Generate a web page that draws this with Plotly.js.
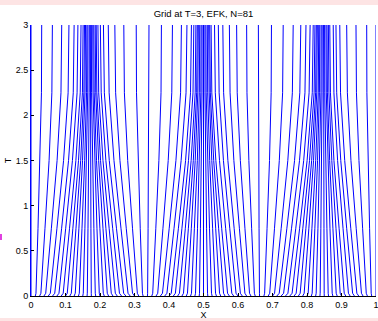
<!DOCTYPE html>
<html><head><meta charset="utf-8">
<script src="https://cdn.plot.ly/plotly-3.0.1.min.js"></script>
<style>
html,body{margin:0;padding:0;}
body{width:378px;height:321px;overflow:hidden;position:relative;
background:linear-gradient(to bottom,#fde4e4 0,#fde4e4 5px,#ffffff 5px,#ffffff 318px,#fde4e4 318px);}
#plot{position:absolute;left:0;top:0;width:378px;height:321px;}
#mark{position:absolute;left:0;top:234px;width:2px;height:6px;background:#e040e0;}
</style></head>
<body><div id="plot"></div><div id="mark"></div>
<script>
// time samples
const T = [0, 0.03, 0.75, 1.5, 2.25, 3];
// grid point positions at each time sample (81 points)
const X_T0 = [0,0.0125,0.025,0.0375,0.05,0.0625,0.075,0.0875,0.1,0.1125,0.125,0.1375,0.15,0.1625,0.175,0.1875,0.2,0.2125,0.225,0.2375,0.25,0.2625,0.275,0.2875,0.3,0.3125,0.325,0.3375,0.35,0.3625,0.375,0.3875,0.4,0.4125,0.425,0.4375,0.45,0.4625,0.475,0.4875,0.5,0.5125,0.525,0.5375,0.55,0.5625,0.575,0.5875,0.6,0.6125,0.625,0.6375,0.65,0.6625,0.675,0.6875,0.7,0.7125,0.725,0.7375,0.75,0.7625,0.775,0.7875,0.8,0.8125,0.825,0.8375,0.85,0.8625,0.875,0.8875,0.9,0.9125,0.925,0.9375,0.95,0.9625,0.975,0.9875,1];
const X_T003 = [0,0.0144,0.0287,0.0427,0.056,0.0688,0.0811,0.0933,0.1051,0.1168,0.1283,0.14,0.1515,0.1632,0.1747,0.1863,0.1979,0.2095,0.2211,0.2327,0.2444,0.2564,0.2685,0.2812,0.2943,0.3082,0.323,0.338,0.3528,0.3673,0.3811,0.394,0.4065,0.4185,0.4303,0.442,0.4535,0.4652,0.4768,0.4884,0.5,0.5117,0.5232,0.5349,0.5465,0.5581,0.5697,0.582,0.5943,0.6069,0.62,0.6334,0.6475,0.6622,0.6772,0.6919,0.706,0.7195,0.7322,0.7447,0.7568,0.7686,0.7802,0.7918,0.8034,0.815,0.8266,0.8382,0.8498,0.8614,0.873,0.8846,0.8962,0.9079,0.9201,0.9322,0.9445,0.9578,0.9717,0.9861,1];
const X_T075 = [0,0.0203,0.0405,0.0591,0.0752,0.0888,0.1006,0.1117,0.1214,0.1304,0.1389,0.1478,0.1563,0.1652,0.1737,0.1823,0.1912,0.1997,0.2086,0.2171,0.2265,0.2367,0.2477,0.2608,0.2761,0.2942,0.3166,0.3394,0.3618,0.3825,0.4006,0.4146,0.4273,0.4375,0.4473,0.4562,0.4647,0.4736,0.4826,0.4911,0.5,0.5089,0.5174,0.5264,0.5353,0.5438,0.5527,0.5642,0.5761,0.5888,0.604,0.6201,0.6395,0.661,0.6842,0.7058,0.7252,0.7417,0.7552,0.7675,0.7786,0.7879,0.7968,0.8054,0.8143,0.8228,0.8317,0.8402,0.8492,0.8577,0.8666,0.8751,0.884,0.893,0.9044,0.915,0.9269,0.9426,0.9612,0.9814,1];
const X_T15 = [0,0.0262,0.0524,0.0756,0.0944,0.1088,0.1201,0.1301,0.1377,0.144,0.1494,0.1556,0.1611,0.1673,0.1728,0.1783,0.1845,0.1899,0.1961,0.2016,0.2086,0.217,0.2269,0.2405,0.2578,0.2803,0.3102,0.3408,0.3707,0.3977,0.4201,0.4352,0.4481,0.4565,0.4642,0.4704,0.4759,0.4821,0.4883,0.4938,0.5,0.5062,0.5117,0.518,0.5241,0.5296,0.5358,0.5464,0.5578,0.5707,0.588,0.6068,0.6315,0.6599,0.6913,0.7197,0.7444,0.7639,0.7783,0.7904,0.8003,0.8073,0.8135,0.819,0.8252,0.8306,0.8368,0.8423,0.8485,0.854,0.8602,0.8657,0.8719,0.8781,0.8887,0.8979,0.9093,0.9274,0.9506,0.9768,1];
const X_T225 = [0,0.0303,0.0605,0.0869,0.1076,0.1225,0.1336,0.1427,0.149,0.1533,0.1567,0.161,0.1644,0.1687,0.1721,0.1755,0.1798,0.1832,0.1876,0.1909,0.1962,0.2035,0.2126,0.2265,0.2453,0.2707,0.3058,0.3418,0.3769,0.4081,0.4336,0.4494,0.4624,0.4696,0.4759,0.4802,0.4836,0.4879,0.4923,0.4957,0.5,0.5043,0.5077,0.5121,0.5164,0.5198,0.5241,0.5342,0.5453,0.5583,0.577,0.5977,0.626,0.6591,0.6961,0.7293,0.7576,0.7792,0.7941,0.8061,0.8153,0.8206,0.825,0.8283,0.8326,0.836,0.8404,0.8437,0.8481,0.8515,0.8558,0.8592,0.8635,0.8679,0.878,0.8861,0.8972,0.917,0.9433,0.9736,1];
const X_T3 = [0,0.031,0.062,0.089,0.110,0.125,0.136,0.145,0.151,0.155,0.158,0.162,0.165,0.169,0.172,0.175,0.179,0.182,0.186,0.189,0.194,0.201,0.210,0.224,0.243,0.269,0.305,0.342,0.378,0.410,0.436,0.452,0.465,0.472,0.478,0.482,0.485,0.489,0.493,0.496,0.500,0.504,0.507,0.511,0.515,0.518,0.522,0.532,0.543,0.556,0.575,0.596,0.625,0.659,0.697,0.731,0.760,0.782,0.797,0.809,0.818,0.823,0.827,0.830,0.834,0.837,0.841,0.844,0.848,0.851,0.855,0.858,0.862,0.866,0.876,0.884,0.895,0.915,0.942,0.973,1];
const X_TICKS = [0,0.1,0.2,0.3,0.4,0.5,0.6,0.7,0.8,0.9,1];
const X_LABELS = ['0','0.1','0.2','0.3','0.4','0.5','0.6','0.7','0.8','0.9','1'];
const Y_TICKS = [0,0.5,1,1.5,2,2.5,3];
const Y_LABELS = ['0','0.5','1','1.5','2','2.5','3'];

const XS = [X_T0, X_T003, X_T075, X_T15, X_T225, X_T3];
const traces = [];
for (let i = 0; i < X_T0.length; i++) {
  traces.push({
    type: 'scatter', mode: 'lines',
    x: XS.map(a => a[i]), y: T,
    line: {color: '#0000ff', width: 1},
    hoverinfo: 'skip', showlegend: false
  });
}
const font = {family: 'Liberation Sans, Arial, sans-serif', size: 9, color: '#000'};
const layout = {
  width: 378, height: 321,
  margin: {l: 31, r: 2, t: 25, b: 25},
  paper_bgcolor: 'rgba(0,0,0,0)', plot_bgcolor: '#ffffff',
  font: font,
  title: {text: 'Grid at T=3, EFK, N=81', font: {family: font.family, size: 9.5, color: '#000'},
          x: 0.5, xref: 'paper', y: 1 - 14/321, yref: 'container', yanchor: 'middle'},
  xaxis: {range: [0, 1], tickvals: X_TICKS, ticktext: X_LABELS, ticks: 'inside', ticklen: 3,
          tickcolor: '#000', showline: true, linecolor: '#000', linewidth: 1, zeroline: false,
          showgrid: false, tickfont: font, automargin: false, ticklabeloverflow: 'allow',
          title: {text: 'X', font: font, standoff: 0}},
  yaxis: {range: [0, 3], tickvals: Y_TICKS, ticktext: Y_LABELS, ticks: 'inside', ticklen: 3,
          tickcolor: '#000', showline: true, linecolor: '#0000ff', linewidth: 1, zeroline: false,
          showgrid: false, tickfont: font, automargin: false, ticklabeloverflow: 'allow',
          title: {text: 'T', font: font, standoff: 2}},
  showlegend: false, hovermode: false
};
Plotly.newPlot('plot', traces, layout, {staticPlot: true, displayModeBar: false});
</script>
</body></html>
